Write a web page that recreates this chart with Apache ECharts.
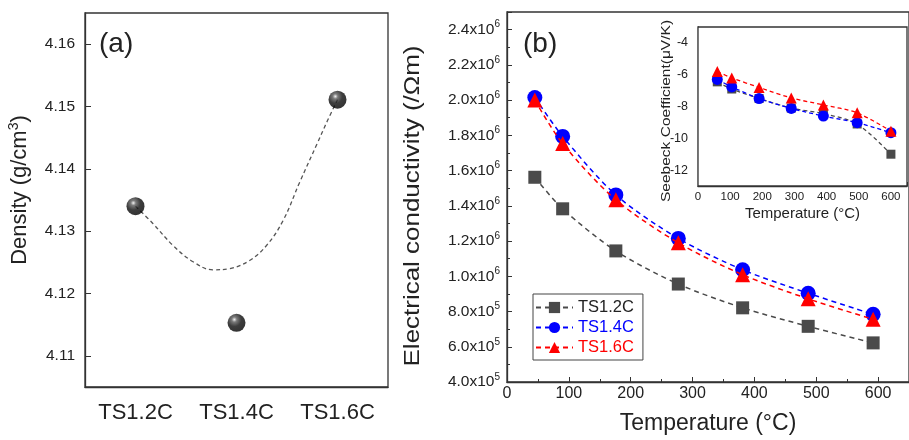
<!DOCTYPE html>
<html><head><meta charset="utf-8">
<script src="https://cdn.jsdelivr.net/npm/echarts@6/dist/echarts.min.js"></script>
<style>html,body{margin:0;padding:0;background:#fff}#c{width:909px;height:440px}</style>
</head><body><div id="c"></div>
<script>
// ---- Panel (a): density ----
const densityCats = ['TS1.2C', 'TS1.4C', 'TS1.6C'];
const densityVals = [4.134, 4.1153, 4.1511];
const densityTicks = [4.11, 4.12, 4.13, 4.14, 4.15, 4.16];
// dashed fit curve (category coordinate, value)
const densityFitX = [0, 0.174, 0.372, 0.57, 0.768, 0.933, 1.13, 1.297, 1.461, 1.627, 1.8, 1.9, 2];
const densityFitY = [4.134, 4.1312, 4.1277, 4.1251, 4.1238, 4.124, 4.1253, 4.1277, 4.1317, 4.1379, 4.1441, 4.1477, 4.1511];

// ---- Panel (b): electrical conductivity ----
const tempB = [45, 90, 176, 277, 381, 487, 592];
const sigmaTS12 = [1.562e6, 1.383e6, 1.144e6, 0.956e6, 0.821e6, 0.716e6, 0.622e6];
const sigmaTS14 = [2.015e6, 1.794e6, 1.462e6, 1.215e6, 1.037e6, 0.904e6, 0.784e6];
const sigmaTS16 = [2.0e6, 1.753e6, 1.434e6, 1.19e6, 1.009e6, 0.872e6, 0.756e6];
const sigmaTicks = [4e5, 6e5, 8e5, 1.0e6, 1.2e6, 1.4e6, 1.6e6, 1.8e6, 2.0e6, 2.2e6, 2.4e6];
const tempTicks = [0, 100, 200, 300, 400, 500, 600];

// ---- Inset: Seebeck coefficient ----
const tempS = [60, 105, 190, 290, 390, 495, 600];
const seebTS12 = [-6.45, -6.9, -7.5, -8.1, -8.45, -9.1, -11.0];
const seebTS14 = [-6.3, -6.77, -7.5, -8.12, -8.6, -9.02, -9.65];
const seebTS16 = [-5.8, -6.2, -6.8, -7.46, -7.9, -8.4, -9.55];
const seebTicks = [-12, -10, -8, -6, -4];

const names = ['TS1.2C', 'TS1.4C', 'TS1.6C'];
const colors = ['#4a4a4a', '#0000ff', '#ff0000'];
const symbols = ['rect', 'circle', 'triangle'];

const FONT = 'Liberation Sans, Arial, sans-serif';
const AX = '#333';
const TXT = '#222';
const zip = (xs, ys) => xs.map((x, i) => [x, ys[i]]);

function sciLabel(v) {
  const e = Math.floor(Math.log10(v) + 1e-9);
  const m = (v / Math.pow(10, e)).toFixed(1);
  return '{b|' + m + 'x10}{s|' + e + '}';
}

const chart = echarts.init(document.getElementById('c'), null, {renderer: 'canvas'});

const mainSeries = [sigmaTS12, sigmaTS14, sigmaTS16].map((arr, i) => ({
  name: names[i], type: 'line', xAxisIndex: 2, yAxisIndex: 1,
  data: zip(tempB, arr), smooth: 0.3,
  symbol: symbols[i], symbolSize: i === 0 ? 13 : 15,
  itemStyle: {color: colors[i]},
  lineStyle: {color: colors[i], type: [5, 4], width: 1.5},
  z: 3 + i
}));
const insetSeries = [seebTS12, seebTS14, seebTS16].map((arr, i) => ({
  name: names[i], type: 'line', xAxisIndex: 3, yAxisIndex: 2,
  data: zip(tempS, arr), smooth: 0.3,
  symbol: symbols[i], symbolSize: i === 0 ? 9 : 11,
  itemStyle: {color: colors[i]},
  lineStyle: {color: colors[i], type: [4, 3], width: 1.3},
  z: 10 + i
}));

function vTitle(text, x, y, size, sx, rich) {
  return {type: 'text', x: x, y: y, rotation: Math.PI / 2, scaleX: sx, z: 20,
    style: {text: text, fontSize: size, fill: TXT, fontFamily: FONT, align: 'center', verticalAlign: 'middle', rich: rich}};
}

const option = {
  backgroundColor: '#fff',
  animation: false,
  textStyle: {fontFamily: FONT},
  grid: [
    {left: 85, top: 13, width: 303, height: 374, show: true, borderColor: AX, borderWidth: 1.3, backgroundColor: 'transparent'},
    {left: 507, top: 12, right: -10, bottom: 54, show: true, borderColor: AX, borderWidth: 1.3, backgroundColor: 'transparent'},
    {left: 698, top: 27, right: 2, bottom: 254, show: true, borderColor: AX, borderWidth: 1.3, backgroundColor: '#fff', z: 5}
  ],
  xAxis: [
    {type: 'category', gridIndex: 0, data: densityCats, boundaryGap: true,
      axisLine: {lineStyle: {color: AX, width: 1.3}},
      axisTick: {inside: true, alignWithLabel: true, length: 6, lineStyle: {color: AX}},
      axisLabel: {color: TXT, fontSize: 22, margin: 15, fontFamily: FONT},
      splitLine: {show: false}},
    {type: 'value', gridIndex: 0, min: -0.5, max: 2.5, show: false},
    {type: 'value', gridIndex: 1, min: 0, max: 650, interval: 100,
      name: 'Temperature (°C)', nameLocation: 'middle', nameGap: 30,
      nameTextStyle: {fontSize: 23, color: TXT, fontFamily: FONT, verticalAlign: 'top'},
      axisLine: {lineStyle: {color: AX, width: 1.3}},
      axisTick: {inside: true, length: 5, lineStyle: {color: AX}},
      minorTick: {show: true, splitNumber: 2, length: 3, lineStyle: {color: AX}},
      axisLabel: {color: TXT, fontSize: 16, margin: 4, fontFamily: FONT, customValues: tempTicks},
      splitLine: {show: false}},
    {type: 'value', gridIndex: 2, min: 0, max: 650, interval: 100,
      name: 'Temperature (°C)', nameLocation: 'middle', nameGap: 20,
      nameTextStyle: {fontSize: 15, color: TXT, fontFamily: FONT},
      axisLine: {lineStyle: {color: AX, width: 1.3}},
      axisTick: {inside: true, length: 4, lineStyle: {color: AX}},
      minorTick: {show: true, splitNumber: 2, length: 2, lineStyle: {color: AX}},
      axisLabel: {color: TXT, fontSize: 11.5, margin: 5, fontFamily: FONT, customValues: tempTicks},
      splitLine: {show: false}}
  ],
  yAxis: [
    {type: 'value', gridIndex: 0, min: 4.105, max: 4.165,
      axisLine: {onZero: false, lineStyle: {color: AX, width: 1.3}},
      axisTick: {inside: true, length: 6, lineStyle: {color: AX}, customValues: densityTicks},
      axisLabel: {color: TXT, fontSize: 15.5, margin: 10, fontFamily: FONT, customValues: densityTicks,
        formatter: v => v.toFixed(2)},
      splitLine: {show: false}},
    {type: 'value', gridIndex: 1, min: 4e5, max: 2.5e6, interval: 2e5,
      axisLine: {onZero: false, lineStyle: {color: AX, width: 1.3}},
      axisTick: {inside: true, length: 5, lineStyle: {color: AX}},
      minorTick: {show: true, splitNumber: 2, length: 3, lineStyle: {color: AX}},
      axisLabel: {color: TXT, margin: 7, customValues: sigmaTicks, formatter: sciLabel,
        rich: {b: {fontSize: 15.5, color: TXT, fontFamily: FONT},
               s: {fontSize: 10, color: TXT, fontFamily: FONT, padding: [0, 0, 10, 0]}}},
      splitLine: {show: false}},
    {type: 'value', gridIndex: 2, min: -13, max: -3, interval: 1,
      axisLine: {onZero: false, lineStyle: {color: AX, width: 1.3}},
      axisTick: {inside: true, length: 3, lineStyle: {color: AX}},
      axisLabel: {color: TXT, fontSize: 12.5, margin: 10, fontFamily: FONT, customValues: seebTicks},
      splitLine: {show: false}}
  ],
  legend: {
    left: 533, top: 294, orient: 'vertical',
    data: names.map((n, i) => ({name: n, textStyle: {color: i === 0 ? TXT : colors[i]}})),
    itemWidth: 37, itemHeight: 14, itemGap: 3,
    padding: [5, 9, 4, 2],
    borderColor: '#444', borderWidth: 1, backgroundColor: '#fff',
    textStyle: {fontSize: 16.5, fontFamily: FONT}
  },
  graphic: [
    {type: 'text', left: 99, top: 30, style: {text: '(a)', fontSize: 28, fill: TXT, fontFamily: FONT}},
    {type: 'text', left: 523, top: 30, style: {text: '(b)', fontSize: 28, fill: TXT, fontFamily: FONT}},
    vTitle('Density (g/cm{sup|3})', 20, 190, 22, 1.0, {sup: {fontSize: 14, padding: [0, 0, 12, 0], fill: TXT, fontFamily: FONT}}),
    vTitle('Electrical conductivity (/Ωm)', 413, 206, 22, 1.18),
    vTitle('Seebeck Coefficient(μV/K)', 666, 111, 13.5, 1.15)
  ],
  series: [
    {name: 'fit', type: 'line', xAxisIndex: 1, yAxisIndex: 0, data: zip(densityFitX, densityFitY),
      smooth: 0.4, symbol: 'none', lineStyle: {color: '#555', type: [4, 3], width: 1.3}, z: 2},
    {name: 'density', type: 'scatter', xAxisIndex: 0, yAxisIndex: 0, data: densityVals,
      symbol: 'circle', symbolSize: 18, z: 4,
      itemStyle: {color: {type: 'radial', x: 0.38, y: 0.32, r: 0.7,
        colorStops: [{offset: 0, color: '#f0f0f0'}, {offset: 0.2, color: '#5a5a5a'}, {offset: 0.55, color: '#0d0d0d'}, {offset: 1, color: '#000'}]}}},
    ...mainSeries,
    ...insetSeries
  ]
};
chart.setOption(option);
</script>
</body></html>
